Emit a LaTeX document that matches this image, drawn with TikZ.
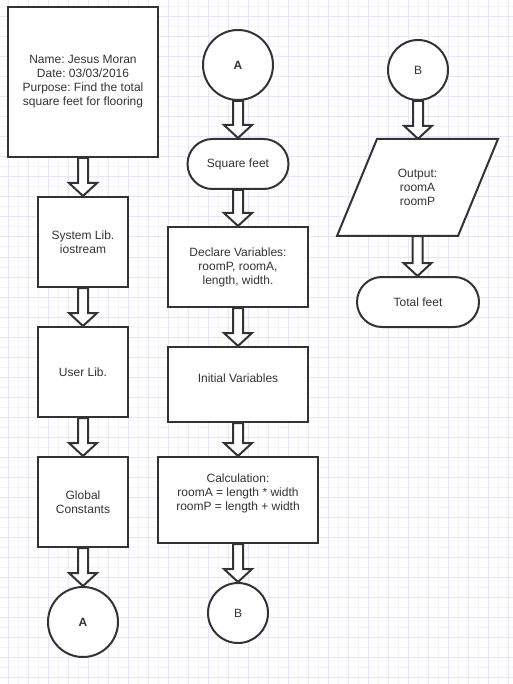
\documentclass[tikz,border=0pt]{standalone}
\usepackage{fontspec}
\setmainfont{Liberation Sans}
\frenchspacing
\usetikzlibrary{calc}
\definecolor{ink}{HTML}{333333}
\definecolor{gridmajor}{RGB}{230,230,251}
\definecolor{gridminor}{RGB}{243,243,253}
\tikzset{
  outline/.style={draw=ink, line width=2pt, fill=white, line join=miter},
  shp/.style={outline, inner sep=0pt, text=ink, font=\fontsize{12}{14}\selectfont, align=center},
  boxs/.style={shp, rectangle},
  term/.style={shp, rectangle, rounded corners=25pt, minimum height=50pt},
  conn/.style={shp, circle},
  txt/.style={text=ink, font=\fontsize{12}{14}\selectfont, align=center, inner sep=0pt},
  barrow/.style={outline},
}
\newcommand\blockarrow[2]{%
  \path[barrow] let \p1=(#1.south), \p2=(#2.north) in
    (\x1-5pt,\y1) -- (\x1+5pt,\y1) -- (\x1+5pt,\y2+13pt) -- (\x1+14pt,\y2+13pt)
    -- (\x1,\y2) -- (\x1-14pt,\y2+13pt) -- (\x1-5pt,\y2+13pt) -- cycle;}
\begin{document}
\begin{tikzpicture}[x=1pt,y=-1pt]
\useasboundingbox (0,0) rectangle (513,684);
\fill[white] (0,0) rectangle (513,684);
% grid
\foreach \gx in {8,18,...,508} {\draw[gridminor, line width=1pt] (\gx,0) -- (\gx,684);}
\foreach \gy in {7,17,...,677} {\draw[gridminor, line width=1pt] (0,\gy) -- (513,\gy);}
\foreach \gx in {8,28,...,508} {\draw[gridmajor, line width=1pt] (\gx,0) -- (\gx,684);}
\foreach \gy in {17,37,...,677} {\draw[gridmajor, line width=1pt] (0,\gy) -- (513,\gy);}

% left column
\node[boxs, minimum width=150pt, minimum height=150pt] (hdr) at (83,82)
  {Name: Jesus Moran\\Date: 03/03/2016\\Purpose: Find the total\\square feet for flooring};
\node[boxs, minimum width=90pt, minimum height=90pt] (sys) at (83,242) {System Lib.\\iostream};
\node[boxs, minimum width=90pt, minimum height=90pt] (usr) at (83,372) {User Lib.};
\node[boxs, minimum width=90pt, minimum height=90pt] (glb) at (83,502) {Global\\Constants};
\node[conn, minimum size=70pt, font=\fontsize{12}{14}\selectfont\bfseries] (ca1) at (83,622) {A};

% middle column
\node[conn, minimum size=70pt, font=\fontsize{12}{14}\selectfont\bfseries] (ca2) at (238,65) {A};
\node[term, minimum width=101pt] (sqf) at (238,164) {Square feet};
\node[boxs, minimum width=140pt, minimum height=80pt] (dcl) at (238,267)
  {Declare Variables:\\roomP, roomA,\\length, width.};
\node[boxs, minimum width=140pt, minimum height=75pt,
  label={[txt, yshift=6pt]center:Initial Variables}] (ini) at (238,384.5) {};
\node[boxs, minimum width=160pt, minimum height=86pt,
  label={[txt, yshift=7pt]center:Calculation:\\roomA = length * width\\roomP = length + width}] (cal) at (238,500) {};
\node[conn, minimum size=60pt] (cb1) at (238,613) {B};

% right column
\node[conn, minimum size=60pt] (cb2) at (418,70) {B};
\draw[outline] (377,139) -- (498,139) -- (458,236) -- (337,236) -- cycle;
\node[txt, minimum width=161pt, minimum height=97pt] (out) at (417.5,187.5) {Output:\\roomA\\roomP};
\node[term, minimum width=122pt] (tot) at (418,302) {Total feet};

% block arrows
\blockarrow{hdr}{sys}
\blockarrow{sys}{usr}
\blockarrow{usr}{glb}
\blockarrow{glb}{ca1}
\blockarrow{ca2}{sqf}
\blockarrow{sqf}{dcl}
\blockarrow{dcl}{ini}
\blockarrow{ini}{cal}
\blockarrow{cal}{cb1}
\blockarrow{cb2}{out}
\blockarrow{out}{tot}
\end{tikzpicture}
\end{document}
